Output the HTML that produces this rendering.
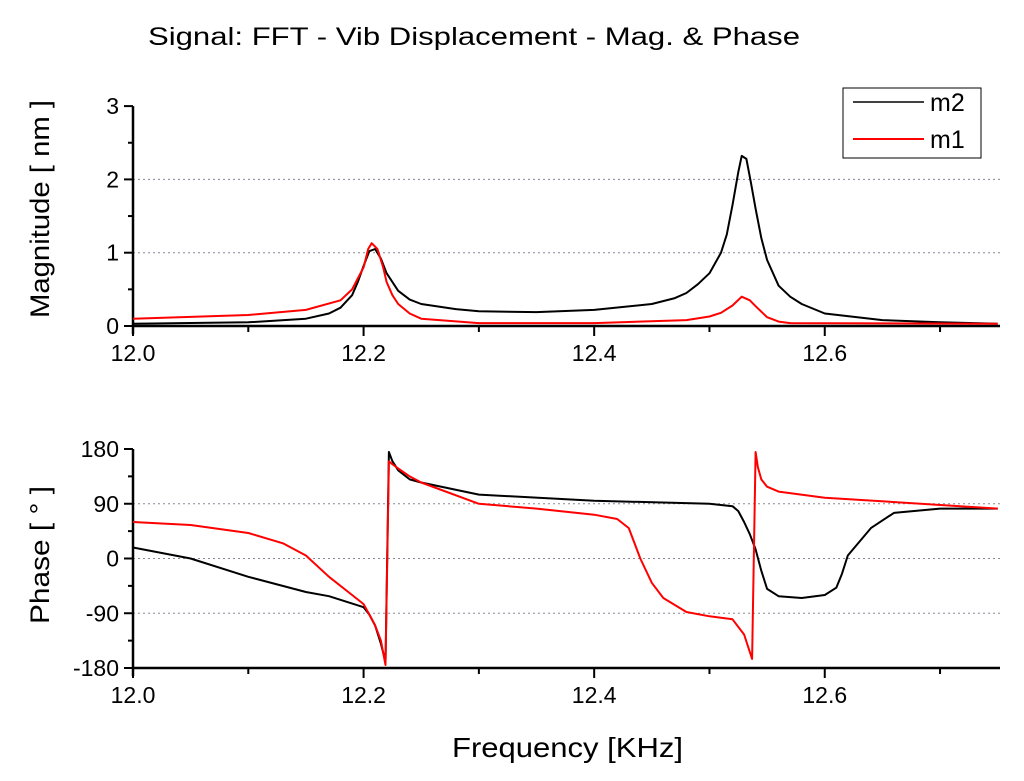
<!DOCTYPE html>
<html><head><meta charset="utf-8"><style>
body{margin:0;background:#fff;}
svg{display:block;font-family:"Liberation Sans",sans-serif;}
</style></head><body>
<svg id="chart" width="1024" height="781" viewBox="0 0 1024 781">
<text x="148" y="45" font-size="25" textLength="652" lengthAdjust="spacingAndGlyphs">Signal: FFT - Vib Displacement - Mag. &amp; Phase</text>
<text x="452" y="757" font-size="28" textLength="231" lengthAdjust="spacingAndGlyphs">Frequency [KHz]</text>
<text transform="translate(49,318) rotate(-90)" font-size="27" textLength="218" lengthAdjust="spacingAndGlyphs">Magnitude [ nm ]</text>
<text transform="translate(49,624) rotate(-90)" font-size="27" textLength="138" lengthAdjust="spacingAndGlyphs">Phase [ ° ]</text>
<g id="g"></g>
<g>
<rect x="843" y="88" width="138" height="70" fill="#fff" stroke="#000" stroke-width="1"/>
<line x1="853" y1="102" x2="924" y2="102" stroke="#000" stroke-width="1.5"/>
<text x="930" y="111" font-size="25">m2</text>
<line x1="853" y1="139" x2="924" y2="139" stroke="#f00" stroke-width="2"/>
<text x="930" y="148" font-size="25">m1</text>
</g>
</svg>
<script>
const xTicks=[12.0,12.2,12.4,12.6];
const magTicks=[0,1,2,3];
const phaseTicks=[-180,-90,0,90,180];
const magF2=[12.0,12.1,12.15,12.17,12.18,12.19,12.195,12.2,12.205,12.21,12.215,12.22,12.23,12.24,12.25,12.28,12.3,12.35,12.4,12.45,12.47,12.48,12.49,12.5,12.51,12.515,12.52,12.525,12.528,12.532,12.536,12.54,12.545,12.55,12.56,12.57,12.58,12.6,12.65,12.7,12.75];
const magV2=[0.03,0.05,0.1,0.17,0.25,0.42,0.6,0.82,1.02,1.05,0.92,0.72,0.48,0.36,0.3,0.23,0.2,0.19,0.22,0.3,0.38,0.45,0.57,0.72,1.0,1.25,1.65,2.1,2.32,2.28,1.95,1.6,1.2,0.9,0.55,0.4,0.3,0.17,0.08,0.05,0.03];
const magF1=[12.0,12.1,12.15,12.18,12.19,12.2,12.204,12.207,12.212,12.217,12.22,12.225,12.23,12.24,12.25,12.3,12.4,12.48,12.5,12.51,12.52,12.528,12.535,12.54,12.55,12.56,12.57,12.75];
const magV1=[0.1,0.15,0.22,0.35,0.5,0.8,1.05,1.13,1.05,0.8,0.6,0.42,0.3,0.17,0.1,0.04,0.04,0.08,0.13,0.18,0.28,0.4,0.35,0.27,0.12,0.06,0.04,0.03];
const phF2=[12.0,12.05,12.1,12.15,12.17,12.2,12.205,12.21,12.215,12.219,12.222,12.225,12.23,12.24,12.25,12.3,12.4,12.5,12.52,12.525,12.53,12.535,12.54,12.545,12.55,12.56,12.58,12.6,12.61,12.615,12.62,12.64,12.66,12.7,12.75];
const phV2=[18,0,-30,-55,-62,-80,-92,-110,-140,-170,175,160,145,130,125,105,95,90,86,78,60,40,15,-20,-50,-62,-65,-60,-48,-25,5,50,75,82,82];
const phF1=[12.0,12.05,12.1,12.13,12.15,12.17,12.19,12.2,12.205,12.21,12.215,12.219,12.222,12.225,12.23,12.24,12.25,12.3,12.35,12.4,12.42,12.43,12.44,12.45,12.46,12.48,12.5,12.52,12.53,12.537,12.54,12.542,12.545,12.55,12.56,12.6,12.75];
const phV1=[60,55,42,25,5,-30,-60,-75,-92,-110,-135,-175,160,155,148,135,125,90,82,72,65,50,0,-40,-65,-88,-95,-100,-125,-165,175,150,130,118,110,100,82];
const NS='http://www.w3.org/2000/svg';
const g=document.getElementById('g');
const X0=133,X1=1000,F0=12.0,F1=12.752;
const fx=f=>X0+(f-F0)/(F1-F0)*(X1-X0);
const my=v=>326-v*73.3;
const py=v=>558.5-v*(219/360);
function el(t,a,p){const e=document.createElementNS(NS,t);for(const k in a)e.setAttribute(k,a[k]);(p||g).appendChild(e);return e;}
function panel(yfn,ticks,yTop,yBot,name){
  ticks.forEach((t,i)=>{const y=yfn(t);
    if(i>0&&i<ticks.length-1){const l=el('line',{x1:X0,x2:X1,y1:y,y2:y,stroke:'#889','stroke-width':1,'stroke-dasharray':'2,3'});
      
      }
    const tk=el('line',{x1:X0-9,x2:X0,y1:y,y2:y,stroke:'#000','stroke-width':2});
    
    
    const tx=el('text',{x:X0-14,y:y+8,'font-size':23,'text-anchor':'end'});tx.textContent=t;
    
    
  });
  for(let i=0;i<ticks.length-1;i++){const v=(ticks[i]+ticks[i+1])/2;const y=yfn(v);
    const m=el('line',{x1:X0-5,x2:X0,y1:y,y2:y,stroke:'#000','stroke-width':2});
    
    }
  const ya=el('line',{x1:X0,x2:X0,y1:yTop,y2:yBot+8,stroke:'#000','stroke-width':2.5});
  
  
  const xa=el('line',{x1:X0,x2:X1,y1:yBot,y2:yBot,stroke:'#000','stroke-width':2.5});
  
  
  xTicks.forEach(t=>{const x=fx(t);
    const tk=el('line',{x1:x,x2:x,y1:yBot,y2:yBot+10,stroke:'#000','stroke-width':2});
    
    
    const tx=el('text',{x:x,y:yBot+35,'font-size':23,'text-anchor':'middle'});tx.textContent=t.toFixed(1);
    
    
    const mx=fx(t+0.1);
    const mt=el('line',{x1:mx,x2:mx,y1:yBot,y2:yBot+6,stroke:'#000','stroke-width':2});
    
    
  });
}
function series(fs,vs,yfn,color,w,name){
  const d=fs.map((f,i)=>(i?'L':'M')+fx(f).toFixed(1)+','+yfn(vs[i]).toFixed(1)).join('');
  const p=el('path',{d:d,fill:'none',stroke:color,'stroke-width':w,'stroke-linejoin':'round'});
  
  
}
panel(my,magTicks,my(3),326,'mag');
panel(py,phaseTicks,py(180),py(-180),'phase');
series(magF2,magV2,my,'#000',2,'magnitude-m2-line');
series(magF1,magV1,my,'#f00',2,'magnitude-m1-line');
series(phF2,phV2,py,'#000',2,'phase-m2-line');
series(phF1,phV1,py,'#f00',2,'phase-m1-line');
</script>
</body></html>
